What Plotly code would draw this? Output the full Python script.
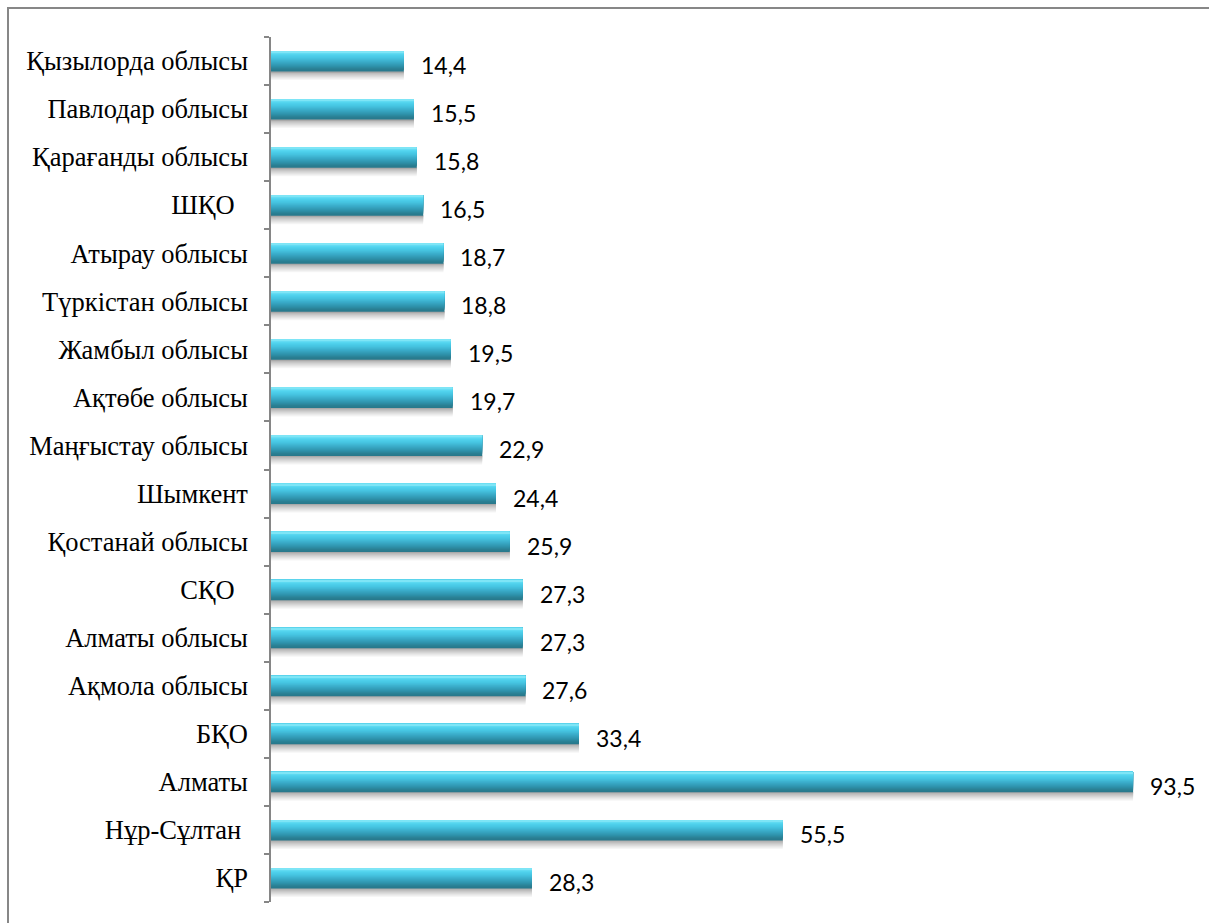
import plotly.graph_objects as go

# Regions, bottom to top as drawn on the category axis
regions = [
    "ҚР", "Нұр-Сұлтан\u00a0", "Алматы", "БҚО", "Ақмола облысы", "Алматы облысы",
    "СҚО\u00a0\u00a0", "Қостанай облысы", "Шымкент", "Маңғыстау облысы",
    "Ақтөбе облысы", "Жамбыл облысы", "Түркістан облысы", "Атырау облысы",
    "ШҚО\u00a0\u00a0", "Қарағанды облысы", "Павлодар облысы", "Қызылорда облысы",
]
values = [28.3, 55.5, 93.5, 33.4, 27.6, 27.3, 27.3, 25.9, 24.4, 22.9,
          19.7, 19.5, 18.8, 18.7, 16.5, 15.8, 15.5, 14.4]
value_labels = [f"{v:.1f}".replace(".", ",") for v in values]

W, H = 1209, 923
L, R, T, B = 271, 16, 37, 21
plot_w, plot_h = W - L - R, H - T - B
px_per_cat = plot_h / len(regions)


def hex_rgb(h):
    h = h.lstrip("#")
    return tuple(int(h[i:i + 2], 16) for i in (0, 2, 4))


def mix(stops, t):
    """Colour at position t along (position, hex) stops."""
    for (t0, c0), (t1, c1) in zip(stops, stops[1:]):
        if t0 <= t <= t1:
            f = 0 if t1 == t0 else (t - t0) / (t1 - t0)
            a, b = hex_rgb(c0), hex_rgb(c1)
            return "rgb({},{},{})".format(*[round(x + (y - x) * f) for x, y in zip(a, b)])
    return stops[-1][1]


# Shading of the bar face, measured in px down from its top edge
BAR_TOP, BAR_BOTTOM = 10.0, -10.5
face_stops = [(0, "#9beef9"), (1.5, "#6fe0f5"), (3.5, "#52d4ef"), (7, "#46c4e1"),
              (11, "#3aabc8"), (15, "#2f93ac"), (18, "#2a7f93"), (20.5, "#28778a")]
shadow_stops = [(0, "#a9a9a9"), (3, "#c9c9c9"), (6, "#e6e6e6"), (8.5, "#fafafa")]

fig = go.Figure()

layers = []
# soft shadow under each bar, outermost band drawn first
for k in range(8, -1, -1):
    lo = BAR_BOTTOM - 0.5 - k
    layers.append((lo, BAR_BOTTOM + 0.5, mix(shadow_stops, k)))
# bar face, one-pixel bands drawn from the bottom up
depth = BAR_TOP - BAR_BOTTOM
n = int(round(depth))
for k in range(n):
    lo = BAR_BOTTOM + k
    layers.append((lo, BAR_TOP, mix(face_stops, depth - k - 0.5)))

for lo, hi, col in layers:
    fig.add_trace(go.Bar(
        x=values, y=regions, orientation="h",
        width=(hi - lo) / px_per_cat, offset=lo / px_per_cat,
        marker=dict(color=col, line=dict(width=0)),
        hoverinfo="skip", showlegend=False,
    ))

for v, lab, reg in zip(values, value_labels, regions):
    fig.add_annotation(
        x=v, y=reg, text=lab, showarrow=False,
        xanchor="left", yanchor="middle", xshift=15, yshift=-4,
        font=dict(family="Lato", size=23, color="#000000"),
    )


# Outer frame of the chart area
def px_x(p):
    return (p - L) / plot_w


def px_y(p):
    return (H - B - p) / plot_h


fig.add_shape(type="rect", xref="paper", yref="paper",
              x0=px_x(8), x1=px_x(W + 10), y0=px_y(H + 10), y1=px_y(8),
              line=dict(color="#878787", width=2), fillcolor="rgba(0,0,0,0)",
              layer="below")

fig.update_layout(
    width=W, height=H,
    margin=dict(l=L, r=R, t=T, b=B),
    barmode="overlay",
    plot_bgcolor="white", paper_bgcolor="white",
    xaxis=dict(range=[0, 100], visible=False, fixedrange=True),
    yaxis=dict(
        type="category", categoryorder="array", categoryarray=regions,
        showline=True, linecolor="#868686", linewidth=1.5,
        ticks="outside", tickson="boundaries", ticklen=5, tickcolor="#868686",
        tickwidth=1.5, ticklabelstandoff=16,
        tickfont=dict(family="Liberation Serif", size=26.5, color="#000000"),
        showgrid=False, zeroline=False,
    ),
)

fig.write_html("out.html")
